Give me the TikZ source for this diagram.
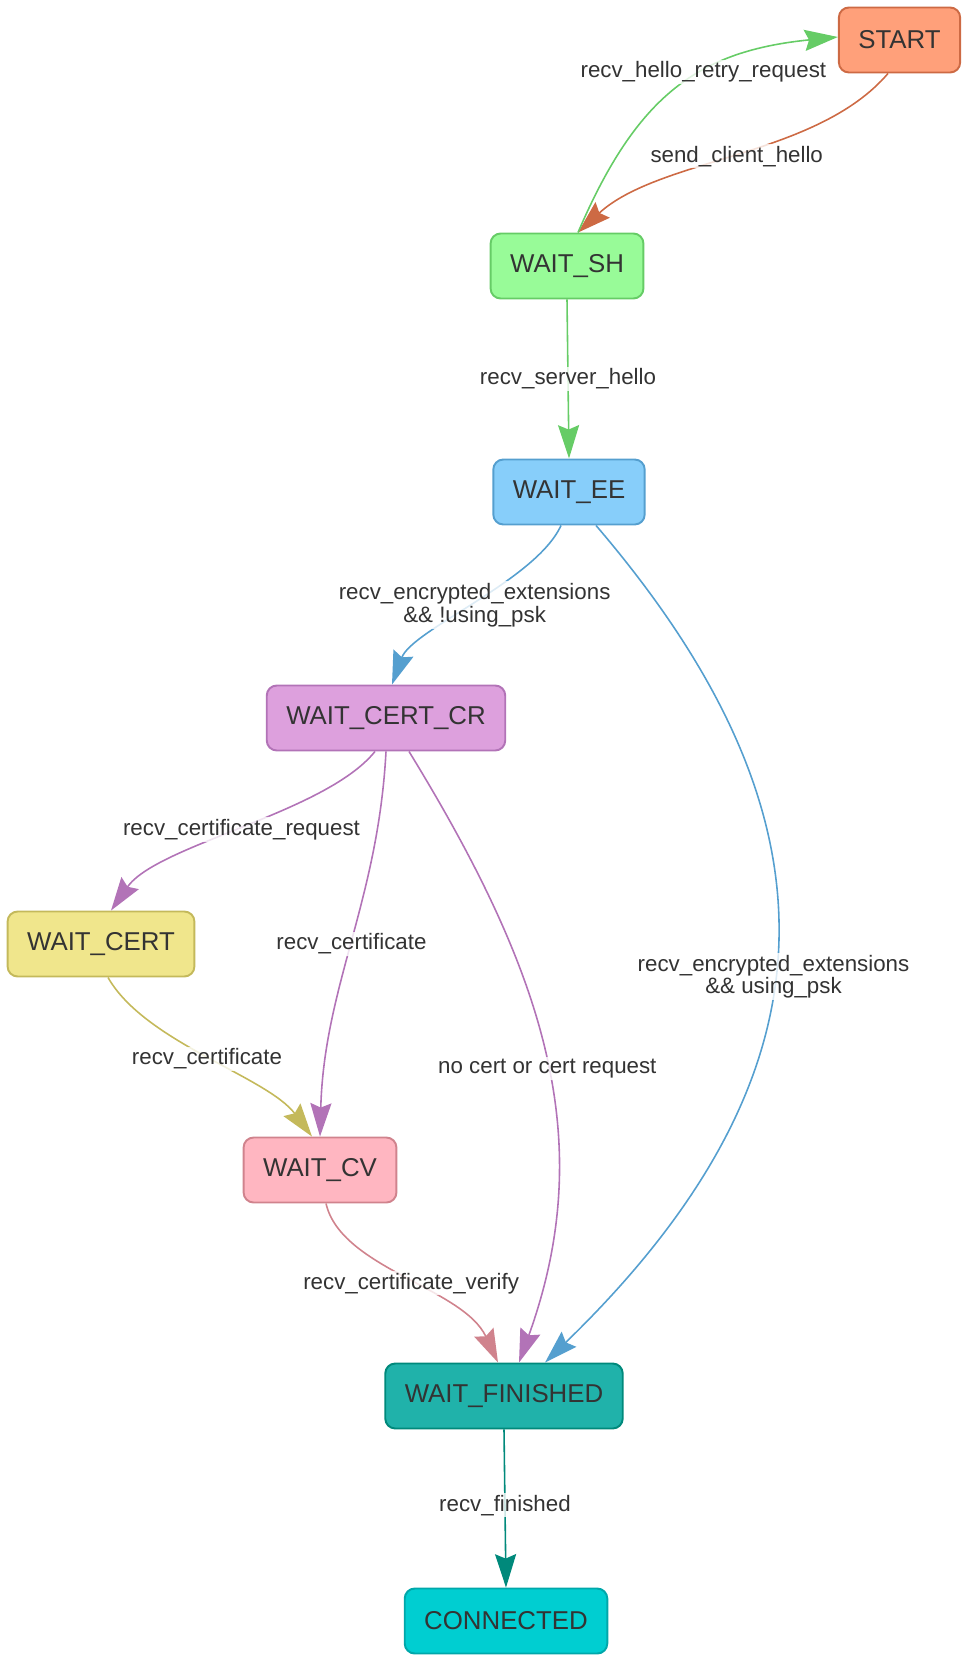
\documentclass[tikz,border=0pt]{standalone}
\usepackage{fontspec}
\setmainfont{Liberation Sans}
\usetikzlibrary{arrows.meta,calc}

\definecolor{txt}{HTML}{333333}
\definecolor{startfill}{HTML}{FFA07A}
\definecolor{startline}{HTML}{CD6A44}
\definecolor{shfill}{HTML}{98FB98}
\definecolor{shline}{HTML}{66CC66}
\definecolor{eefill}{HTML}{87CEFA}
\definecolor{eeline}{HTML}{559FCF}
\definecolor{crfill}{HTML}{DDA0DD}
\definecolor{crline}{HTML}{B273B7}
\definecolor{certfill}{HTML}{F0E68C}
\definecolor{certline}{HTML}{C4B95B}
\definecolor{cvfill}{HTML}{FFB6C1}
\definecolor{cvline}{HTML}{D0838D}
\definecolor{finfill}{HTML}{20B2AA}
\definecolor{finline}{HTML}{00897B}
\definecolor{connfill}{HTML}{00CED1}
\definecolor{connline}{HTML}{00A7AA}

\begin{document}
\begin{tikzpicture}[x=0.02cm,y=-0.02cm]
        \tikzset{state/.style = {shape=rectangle,rounded corners=0.2cm,draw,line width=1.1pt,minimum height=1.3cm,inner xsep=0.39cm,text=txt,font=\fontsize{14.7}{17}\selectfont}}
        \tikzset{edge/.style = {line width=0.9pt,-{Stealth[length=19pt,width=12pt,inset=2.5pt]}}}
        \tikzset{lbl/.style = {text=txt,align=center,inner sep=1pt,fill=white,fill opacity=0.8,text opacity=1,font=\fontsize{12.7}{13}\selectfont}}

        \useasboundingbox (0,0) rectangle (969,1662);

        \node[state,fill=startfill,draw=startline] (start) at (899.5, 40) {START};
        \node[state,fill=shfill,draw=shline] (sh) at (567, 266) {WAIT\_SH};
        \node[state,fill=eefill,draw=eeline] (ee) at (569, 492) {WAIT\_EE};
        \node[state,fill=crfill,draw=crline] (cr) at (386, 718) {WAIT\_CERT\_CR};
        \node[state,fill=certfill,draw=certline] (cert) at (101, 944) {WAIT\_CERT};
        \node[state,fill=cvfill,draw=cvline] (cv) at (320, 1170) {WAIT\_CV};
        \node[state,fill=finfill,draw=finline] (fin) at (504, 1396) {WAIT\_FINISHED};
        \node[state,fill=connfill,draw=connline] (conn) at (506, 1621) {CONNECTED};

        \draw[edge,startline] ($(start.south)+(-11.5,0)$) .. controls +(-71.5,83.6) and +(81.4,-74.8) .. ($(sh.north)+(11,0)$)
            node[lbl,pos=0.5] (Lsend) {send\_client\_hello};
        \draw[edge,shline] ($(sh.north)+(11,0)$) .. controls +(59,-138) and +(-139,14) .. ($(start.west)+(0,-3)$)
            node[lbl,pos=0.6] (Lretry) {recv\_hello\_retry\_request};
        \draw[edge,shline] (sh.south) -- (ee.north)
            node[lbl,pos=0.5] (Lsh) {recv\_server\_hello};

        \draw[edge,eeline] ($(ee.south)+(-8,0)$) .. controls +(-25,55) and +(20,-55) .. ($(cr.north)+(6,0)$)
            node[lbl,pos=0.5] (Lnopsk) {recv\_encrypted\_extensions\\\&\& !using\_psk};
        \draw[edge,eeline] ($(ee.south)+(27,0)$) .. controls +(249,291) and +(300,-291) .. ($(fin.north)+(41,0)$)
            node[lbl,pos=0.54] (Lpsk) {recv\_encrypted\_extensions\\\&\& using\_psk};

        \draw[edge,crline] ($(cr.south)+(-11,0)$) .. controls +(-50,62) and +(46,-66) .. ($(cert.north)+(10,0)$)
            node[lbl,pos=0.5] (Lreq) {recv\_certificate\_request};
        \draw[edge,crline] (cr.south) .. controls +(-8,150) and +(4,-150) .. (cv.north)
            node[lbl,pos=0.5] (Lcert1) {recv\_certificate};
        \draw[edge,crline] ($(cr.south)+(23,0)$) .. controls +(136,222) and +(80,-222) .. ($(fin.north)+(15,0)$)
            node[lbl,pos=0.52] (Lnocert) {no cert or cert request};

        \draw[edge,certline] ($(cert.south)+(7,0)$) .. controls +(37,65) and +(-45,-60) .. ($(cv.north)+(-8,0)$)
            node[lbl,pos=0.5] (Lcert2) {recv\_certificate};
        \draw[edge,cvline] ($(cv.south)+(6,0)$) .. controls +(15,65) and +(-35,-75) .. ($(fin.north)+(-6,0)$)
            node[lbl,pos=0.53] (Lverify) {recv\_certificate\_verify};
        \draw[edge,finline] (fin.south) -- (conn.north)
            node[lbl,pos=0.48] (Lfin) {recv\_finished};
\end{tikzpicture}
\end{document}
